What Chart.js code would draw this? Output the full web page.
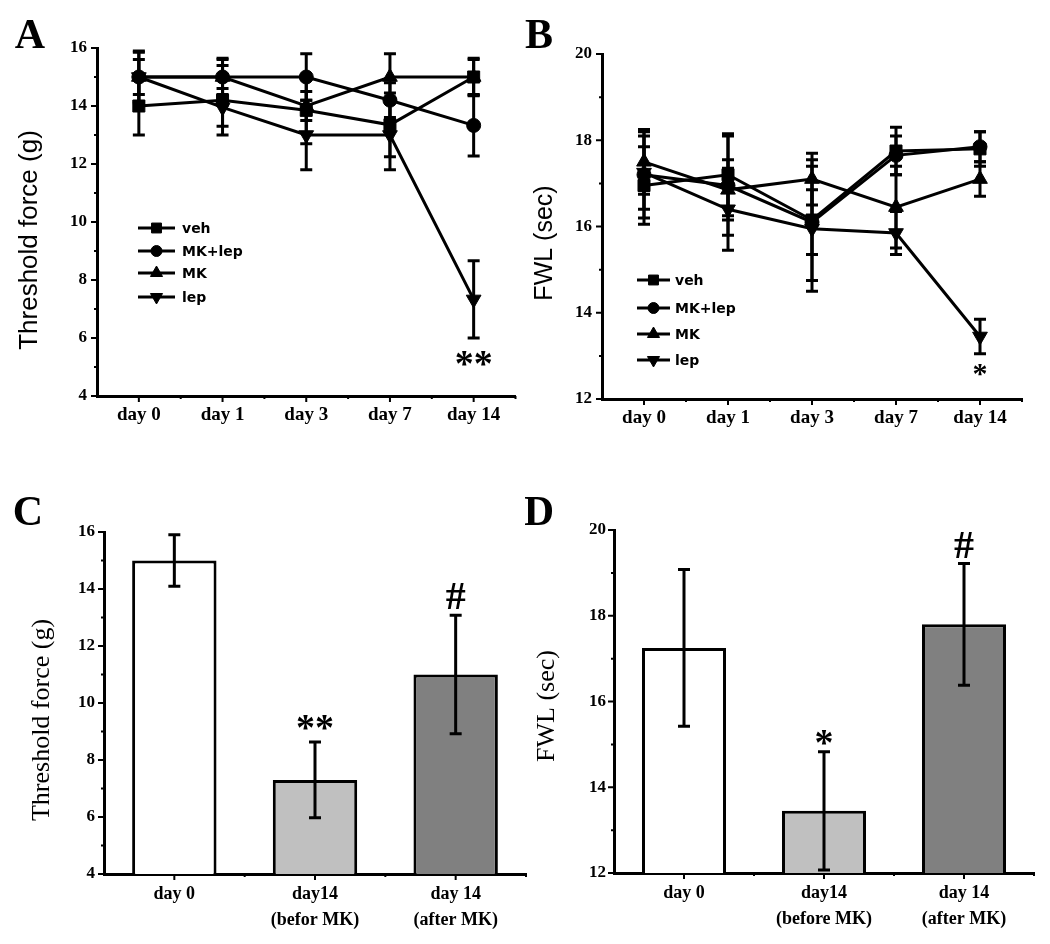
<!DOCTYPE html>
<html>
<head>
<meta charset="utf-8">
<script src="https://cdn.jsdelivr.net/npm/chart.js@4.4.0/dist/chart.umd.min.js"></script>
<style>
  html, body { margin: 0; padding: 0; background: #fff; }
  #wrap { position: relative; width: 1050px; height: 944px; background: #fff; overflow: hidden; }
  canvas { position: absolute; }
</style>
</head>
<body>
<div id="wrap">
  <canvas id="chartA" width="525" height="470" style="left:0;top:0"></canvas>
  <canvas id="chartB" width="525" height="470" style="left:525px;top:0"></canvas>
  <canvas id="chartC" width="530" height="474" style="left:0;top:470px"></canvas>
  <canvas id="chartD" width="525" height="474" style="left:525px;top:470px"></canvas>
</div>
<script>
// time course (panels A and B)
const days = ['day 0', 'day 1', 'day 3', 'day 7', 'day 14'];
const groups = ['veh', 'MK+lep', 'MK', 'lep'];

// A: threshold force (g), mean and error
const forceVeh = [14.0, 14.2, 13.85, 13.35, 15.0];
const forceVehErr = [1.0, 1.2, 1.15, 1.1, 0.65];
const forceMkLep = [15.0, 15.0, 15.0, 14.2, 13.33];
const forceMkLepErr = [0.85, 0.65, 0.8, 0.6, 1.05];
const forceMk = [15.0, 15.0, 14.0, 15.0, 15.0];
const forceMkErr = [0.6, 0.6, 0.5, 0.8, 0.6];
const forceLep = [15.0, 13.95, 13.0, 13.0, 7.33];
const forceLepErr = [0.9, 0.65, 1.2, 1.2, 1.33];

// B: FWL (sec)
const fwlVeh = [16.95, 17.2, 16.15, 17.75, 17.8];
const fwlVehErr = [0.9, 0.95, 1.4, 0.55, 0.4];
const fwlMkLep = [17.2, 16.95, 16.1, 17.65, 17.85];
const fwlMkLepErr = [1.0, 1.15, 0.75, 0.45, 0.35];
const fwlMk = [17.5, 16.85, 17.1, 16.45, 17.1];
const fwlMkErr = [0.75, 0.7, 0.6, 0.95, 0.4];
const fwlLep = [17.25, 16.4, 15.95, 15.85, 13.45];
const fwlLepErr = [0.85, 0.95, 1.45, 0.5, 0.4];

// C and D: bar panels
const barLabelsC = [['day 0'], ['day14', '(befor MK)'], ['day 14', '(after MK)']];
const barLabelsD = [['day 0'], ['day14', '(before MK)'], ['day 14', '(after MK)']];
const forceBars = [15.0, 7.3, 11.0];
const forceBarsErr = [0.9, 1.33, 2.08];
const fwlBars = [17.25, 13.45, 17.8];
const fwlBarsErr = [1.83, 1.38, 1.42];

// axis ranges
const forceRange = [4, 16];
const fwlRange = [12, 20];

// significance marks: text, category index, level on the value axis
const marksA = ['**'], marksAAt = [4], marksALevel = [5.3];
const marksB = ['*'], marksBAt = [4], marksBLevel = [12.67];
const marksC = ['**', '#'], marksCAt = [1, 2], marksCLevel = [9.3, 13.75];
const marksD = ['*', '#'], marksDAt = [1, 2], marksDLevel = [15.17, 19.65];

Chart.defaults.color = '#000';

const markerStyles = [
  { pointStyle: 'rect', rotation: 0, radius: 8.5 },
  { pointStyle: 'circle', rotation: 0, radius: 7 },
  { pointStyle: 'triangle', rotation: 0, radius: 8.5 },
  { pointStyle: 'triangle', rotation: 180, radius: 8.5 }
];

function drawMarker(ctx, st, r, x, y) {
  if (Chart.helpers && Chart.helpers.drawPoint) {
    Chart.helpers.drawPoint(ctx, { pointStyle: st.pointStyle, rotation: st.rotation, radius: r, borderWidth: 1 }, x, y);
    return;
  }
  ctx.beginPath();
  ctx.arc(x, y, r, 0, Math.PI * 2);
  ctx.fill();
}

const extras = {
  id: 'extras',
  afterDatasetsDraw(chart, args, opts) {
    const ctx = chart.ctx, ys = chart.scales.y;
    ctx.save();
    ctx.strokeStyle = '#000';
    ctx.lineWidth = opts.errWidth || 3;
    const cap = opts.cap || 6;
    chart.data.datasets.forEach((ds, di) => {
      if (!ds.errors) return;
      chart.getDatasetMeta(di).data.forEach((el, i) => {
        const v = ds.data[i], e = ds.errors[i];
        const t = ys.getPixelForValue(v + e), b = ys.getPixelForValue(v - e);
        ctx.beginPath();
        ctx.moveTo(el.x, t); ctx.lineTo(el.x, b);
        ctx.moveTo(el.x - cap, t); ctx.lineTo(el.x + cap, t);
        ctx.moveTo(el.x - cap, b); ctx.lineTo(el.x + cap, b);
        ctx.stroke();
      });
    });
    ctx.restore();
  },
  afterDraw(chart, args, opts) {
    const ctx = chart.ctx, a = chart.chartArea;
    const xs = chart.scales.x, ys = chart.scales.y;
    ctx.save();
    ctx.strokeStyle = '#000';
    ctx.fillStyle = '#000';

    // major / minor ticks
    ctx.lineWidth = 2;
    ctx.beginPath();
    for (let v = ys.min; v <= ys.max + 1e-9; v += 1) {
      const py = ys.getPixelForValue(v);
      const len = Math.round(v - ys.min) % 2 === 0 ? 6 : 3;
      ctx.moveTo(a.left - len, py); ctx.lineTo(a.left, py);
    }
    const n = chart.data.labels.length;
    for (let i = 0; i < n; i++) {
      const c = xs.getPixelForValue(i), m = xs.getPixelForValue(i + 0.5);
      ctx.moveTo(c, a.bottom); ctx.lineTo(c, a.bottom + 6);
      ctx.moveTo(m, a.bottom); ctx.lineTo(m, a.bottom + 3);
    }
    ctx.stroke();

    // panel letter
    ctx.font = 'bold 42px "Liberation Serif"';
    ctx.textAlign = 'center';
    ctx.textBaseline = 'alphabetic';
    ctx.fillText(opts.letter, opts.letterAt[0], opts.letterAt[1]);

    // y title
    ctx.save();
    ctx.translate(opts.titleAt[0], opts.titleAt[1]);
    ctx.rotate(-Math.PI / 2);
    ctx.font = opts.titleFont;
    ctx.textBaseline = 'middle';
    ctx.fillText(opts.title, 0, 0);
    ctx.restore();

    // significance marks
    (opts.marks || []).forEach((txt, k) => {
      ctx.font = opts.markFont[k];
      const mt = ctx.measureText(txt);
      const px = xs.getPixelForValue(opts.markAt[k]);
      const py = ys.getPixelForValue(opts.markLevel[k]);
      ctx.fillText(txt, px, py + (mt.actualBoundingBoxAscent - mt.actualBoundingBoxDescent) / 2);
    });

    // legend
    const lg = opts.legend;
    if (lg) {
      ctx.font = 'bold 14px "DejaVu Sans"';
      ctx.textAlign = 'left';
      ctx.textBaseline = 'middle';
      groups.forEach((g, k) => {
        const y = lg.rows[k];
        ctx.lineWidth = 3;
        ctx.beginPath();
        ctx.moveTo(lg.x0, y); ctx.lineTo(lg.x1, y);
        ctx.stroke();
        ctx.lineWidth = 1;
        drawMarker(ctx, markerStyles[k], markerStyles[k].radius - 1.5, (lg.x0 + lg.x1) / 2, y);
        ctx.fillText(g, lg.textX, y + 1);
      });
    }
    ctx.restore();
  }
};

function fixAxis(size, key) {
  return function (scale) {
    scale[key] = size;
    scale.paddingLeft = 0; scale.paddingRight = 0;
    scale.paddingTop = 0; scale.paddingBottom = 0;
  };
}

function lineSet(name, data, err, k) {
  const st = markerStyles[k];
  return {
    label: name, data: data, errors: err,
    borderColor: '#000', borderWidth: 3, tension: 0,
    pointStyle: st.pointStyle, pointRotation: st.rotation, pointRadius: st.radius,
    pointBackgroundColor: '#000', pointBorderColor: '#000', pointBorderWidth: 1,
    clip: false
  };
}

function scalesFor(range, lay) {
  return {
    x: {
      type: 'category', offset: true,
      grid: { display: false, drawTicks: false },
      border: { display: true, color: '#000', width: 3 },
      ticks: { font: lay.xFont, color: '#000', padding: lay.xPad, maxRotation: 0, autoSkip: false },
      afterFit: fixAxis(lay.xHeight, 'height')
    },
    y: {
      min: range[0], max: range[1],
      grid: { display: false, drawTicks: false },
      border: { display: true, color: '#000', width: 3 },
      ticks: { stepSize: 2, font: { family: 'Liberation Serif', weight: 'bold', size: 17 }, color: '#000', padding: lay.yPad },
      afterFit: fixAxis(lay.yWidth, 'width')
    }
  };
}

function layoutPad(lay) {
  return { left: 0, top: lay.top, right: lay.right, bottom: lay.bottom };
}

const lineXFont = { family: 'Liberation Serif', weight: 'bold', size: 19, lineHeight: 1.2 };
const barXFont = { family: 'Liberation Serif', weight: 'bold', size: 18, lineHeight: 1.45 };

// Panel A
const layA = { top: 48, right: 2, bottom: 24, xHeight: 50, yWidth: 97, xFont: lineXFont, xPad: 8, yPad: 10 };
new Chart(document.getElementById('chartA'), {
  type: 'line',
  data: {
    labels: days,
    datasets: [
      lineSet(groups[0], forceVeh, forceVehErr, 0),
      lineSet(groups[1], forceMkLep, forceMkLepErr, 1),
      lineSet(groups[2], forceMk, forceMkErr, 2),
      lineSet(groups[3], forceLep, forceLepErr, 3)
    ]
  },
  options: {
    responsive: false, animation: false,
    layout: { padding: layoutPad(layA) },
    scales: scalesFor(forceRange, layA),
    plugins: {
      legend: { display: false }, tooltip: { enabled: false },
      extras: {
        letter: 'A', letterAt: [30, 48],
        title: 'Threshold force (g)', titleFont: '26px "Liberation Sans"', titleAt: [30, 240],
        marks: marksA, markAt: marksAAt, markLevel: marksALevel, markFont: ['bold 38px "Liberation Serif"'],
        legend: { x0: 138, x1: 175, textX: 182, rows: [228, 251, 273, 297] },
        errWidth: 3, cap: 6
      }
    }
  },
  plugins: [extras]
});

// Panel B
const layB = { top: 54, right: 28, bottom: 21, xHeight: 50, yWidth: 77, xFont: lineXFont, xPad: 8, yPad: 10 };
new Chart(document.getElementById('chartB'), {
  type: 'line',
  data: {
    labels: days,
    datasets: [
      lineSet(groups[0], fwlVeh, fwlVehErr, 0),
      lineSet(groups[1], fwlMkLep, fwlMkLepErr, 1),
      lineSet(groups[2], fwlMk, fwlMkErr, 2),
      lineSet(groups[3], fwlLep, fwlLepErr, 3)
    ]
  },
  options: {
    responsive: false, animation: false,
    layout: { padding: layoutPad(layB) },
    scales: scalesFor(fwlRange, layB),
    plugins: {
      legend: { display: false }, tooltip: { enabled: false },
      extras: {
        letter: 'B', letterAt: [14, 48],
        title: 'FWL (sec)', titleFont: '25px "Liberation Sans"', titleAt: [20, 243],
        marks: marksB, markAt: marksBAt, markLevel: marksBLevel, markFont: ['bold 30px "Liberation Serif"'],
        legend: { x0: 112, x1: 145, textX: 150, rows: [280, 308, 334, 360] },
        errWidth: 3, cap: 6
      }
    }
  },
  plugins: [extras]
});

function barSet(data, err) {
  return {
    data: data, errors: err,
    backgroundColor: ['#ffffff', '#c0c0c0', '#808080'],
    borderColor: '#000', borderWidth: 3, borderSkipped: false,
    barPercentage: 0.6, categoryPercentage: 1.0
  };
}

// Panel C
const layC = { top: 62, right: 4, bottom: 5, xHeight: 65, yWidth: 104, xFont: barXFont, xPad: 7, yPad: 9 };
new Chart(document.getElementById('chartC'), {
  type: 'bar',
  data: { labels: barLabelsC, datasets: [barSet(forceBars, forceBarsErr)] },
  options: {
    responsive: false, animation: false,
    layout: { padding: layoutPad(layC) },
    scales: scalesFor(forceRange, layC),
    plugins: {
      legend: { display: false }, tooltip: { enabled: false },
      extras: {
        letter: 'C', letterAt: [28, 55],
        title: 'Threshold force (g)', titleFont: '26px "Liberation Serif"', titleAt: [42, 250],
        marks: marksC, markAt: marksCAt, markLevel: marksCLevel,
        markFont: ['bold 38px "Liberation Serif"', 'bold 40px "Liberation Serif"'],
        errWidth: 3, cap: 6
      }
    }
  },
  plugins: [extras]
});

// Panel D
const layD = { top: 60, right: 16, bottom: 6, xHeight: 65, yWidth: 89, xFont: barXFont, xPad: 7, yPad: 8 };
new Chart(document.getElementById('chartD'), {
  type: 'bar',
  data: { labels: barLabelsD, datasets: [barSet(fwlBars, fwlBarsErr)] },
  options: {
    responsive: false, animation: false,
    layout: { padding: layoutPad(layD) },
    scales: scalesFor(fwlRange, layD),
    plugins: {
      legend: { display: false }, tooltip: { enabled: false },
      extras: {
        letter: 'D', letterAt: [14, 55],
        title: 'FWL (sec)', titleFont: '26px "Liberation Serif"', titleAt: [22, 236],
        marks: marksD, markAt: marksDAt, markLevel: marksDLevel,
        markFont: ['bold 38px "Liberation Serif"', 'bold 40px "Liberation Serif"'],
        errWidth: 3, cap: 6
      }
    }
  },
  plugins: [extras]
});
</script>
</body>
</html>
